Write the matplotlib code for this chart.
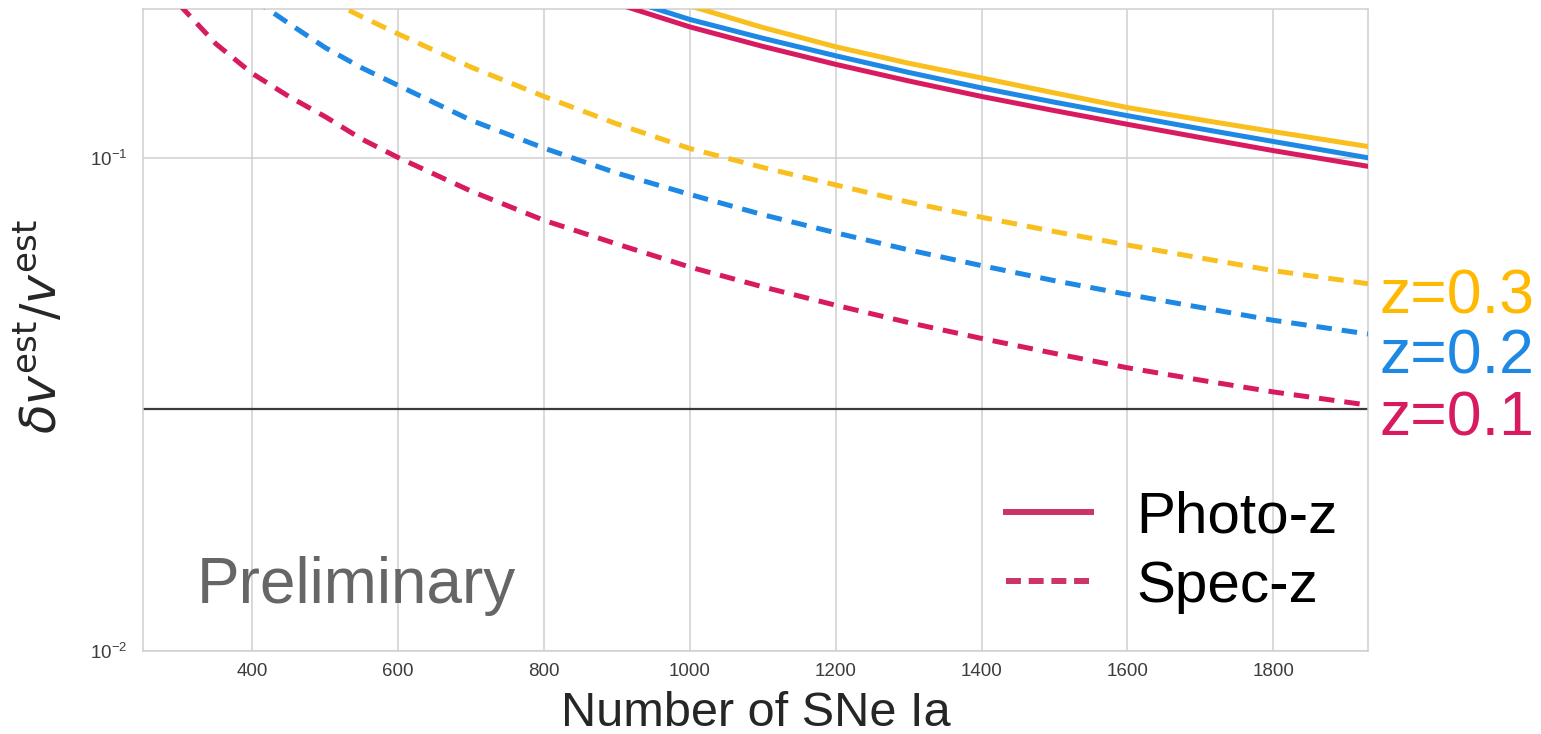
"""
Velocity error vs number of SNe Ia (photo-z vs spec-z)
"""

import matplotlib
matplotlib.use('Agg')
import numpy as np
from matplotlib import pyplot as plt
from matplotlib.lines import Line2D
from matplotlib.ticker import NullLocator

# --------------------------------------------------------------------------------------------------
# Data
# --------------------------------------------------------------------------------------------------

n_spec = [300, 350, 400, 450, 500, 550, 600, 700, 800, 900, 1000, 1100, 1200, 1300, 1400, 1500,
          1600, 1700, 1800, 1930]
spec_z01 = [0.204, 0.170, 0.148, 0.133, 0.121, 0.109, 0.100, 0.0855, 0.0746, 0.0668, 0.0600,
            0.0547, 0.0502, 0.0463, 0.0430, 0.0401, 0.0375, 0.0354, 0.0335, 0.0315]
spec_z02 = [np.nan, np.nan, 0.210, 0.187, 0.167, 0.152, 0.140, 0.119, 0.1045, 0.0930, 0.0842,
            0.0766, 0.0704, 0.0650, 0.0604, 0.0563, 0.0528, 0.0497, 0.0468, 0.0439]
spec_z03 = [np.nan, np.nan, np.nan, np.nan, 0.210, 0.193, 0.178, 0.1525, 0.1330, 0.1170, 0.1043,
            0.0955, 0.0880, 0.0812, 0.0757, 0.0708, 0.0665, 0.0626, 0.0590, 0.0555]

n_photo = [900, 1000, 1100, 1200, 1300, 1400, 1500, 1600, 1700, 1800, 1930]
photo_z01 = [0.205, 0.1840, 0.1680, 0.1545, 0.1430, 0.1330, 0.1245, 0.1168, 0.1098, 0.1033, 0.0960]
photo_z02 = [0.212, 0.1905, 0.1745, 0.1608, 0.1488, 0.1384, 0.1295, 0.1216, 0.1144, 0.1078, 0.0999]
photo_z03 = [0.226, 0.2030, 0.1835, 0.1677, 0.1553, 0.1450, 0.1352, 0.1263, 0.1193, 0.1129, 0.1053]

threshold = 0.031
z_labels = ['z=0.3', 'z=0.2', 'z=0.1']

# --------------------------------------------------------------------------------------------------
# Style
# --------------------------------------------------------------------------------------------------

plt.rcParams['font.family'] = ['Liberation Sans', 'DejaVu Sans']
plt.rcParams['mathtext.fontset'] = 'dejavusans'

red = '#D81B60'
blue = '#1E88E5'
yellow = '#F9BF1E'
grid_c = '#CFCFCF'
lw = 3.6
dash = (3.1, 2.0)

fig = plt.figure(figsize=(15.41, 7.34), dpi=100)
ax = fig.add_axes([0.0928, 0.1131, 0.7949, 0.8746])

ax.axhline(threshold, color='#3A3A3A', lw=1.6, zorder=2)

ax.plot(n_spec, spec_z03, color=yellow, lw=lw, dashes=dash, zorder=3)
ax.plot(n_spec, spec_z02, color=blue, lw=lw, dashes=dash, zorder=3)
ax.plot(n_spec, spec_z01, color=red, lw=lw, dashes=dash, zorder=3)
ax.plot(n_photo, photo_z03, color=yellow, lw=lw, zorder=3)
ax.plot(n_photo, photo_z02, color=blue, lw=lw, zorder=3)
ax.plot(n_photo, photo_z01, color=red, lw=lw, zorder=3)

ax.set_yscale('log')
ax.set_xlim(250, 1930)
ax.set_ylim(0.01, 0.2)
ax.set_xticks(range(400, 1801, 200))
ax.yaxis.set_minor_locator(NullLocator())

ax.grid(True, color=grid_c, lw=1.1, zorder=0)
ax.set_axisbelow(True)
for s in ax.spines.values():
    s.set_color(grid_c)
    s.set_linewidth(1.1)
ax.tick_params(axis='both', length=0, labelsize=13.5, labelcolor='#3C3C3C')
ax.tick_params(axis='x', pad=9)
ax.tick_params(axis='y', pad=11)

ax.set_xlabel('Number of SNe Ia', fontsize=35, color='#262626')
ax.xaxis.set_label_coords(0.5, -0.117)
ax.xaxis.label.set_va('baseline')
ax.set_ylabel(r'$\delta v^{\mathrm{est}}/v^{\mathrm{est}}$', fontsize=35, color='#262626')
ax.yaxis.set_label_coords(-0.062, 0.5047)

ax.text(324, 0.0125, 'Preliminary', fontsize=46, color='#666666', ha='left', va='baseline')

# Legend (style only, drawn in one colour)
handles = [Line2D([], [], color='#CC3366', lw=4.3),
           Line2D([], [], color='#CC3366', lw=4.3, dashes=(2.5, 1.3))]
fig.legend(handles, ['Photo-z', 'Spec-z'], loc='center left',
           bbox_to_anchor=(977 / 1541, 1 - 552 / 734), frameon=False, fontsize=42,
           borderpad=0, handlelength=1.45, handletextpad=0.78, labelspacing=0.27)

# Redshift labels on the right
for lab, col, yb in zip(z_labels, ['#FFB900', blue, red], [313, 373, 435]):
    fig.text(1380 / 1541, 1 - yb / 734, lab, fontsize=45, color=col, ha='left', va='baseline')

fig.savefig('out.png', dpi=100)
